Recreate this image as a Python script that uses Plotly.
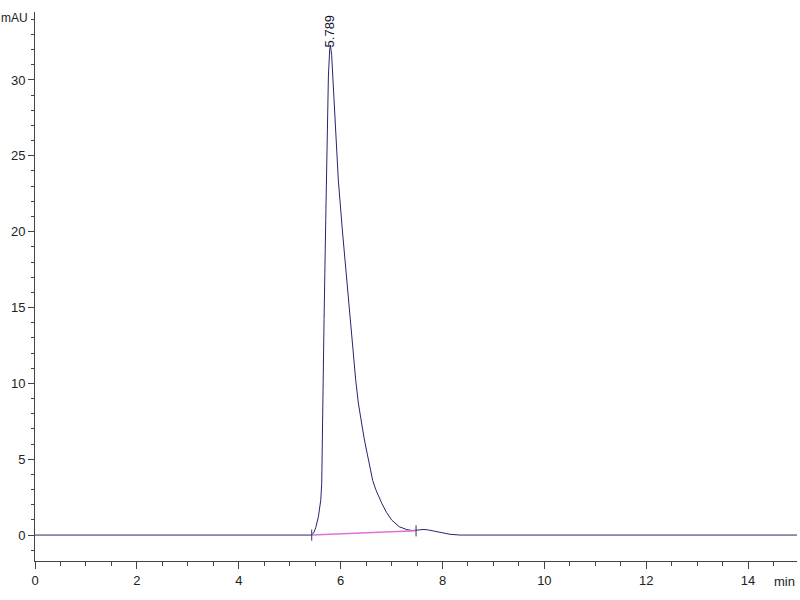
import plotly.graph_objects as go

# Chromatogram signal (time in min, absorbance in mAU)
time_min = [0.0, 2.0, 4.0, 5.0, 5.433, 5.48, 5.512, 5.563, 5.61, 5.629, 5.641, 5.649,
            5.675, 5.708, 5.733, 5.76, 5.785, 5.80, 5.825, 5.86, 5.90, 5.955, 6.034,
            6.12, 6.205, 6.297, 6.348, 6.40, 6.46, 6.52, 6.578, 6.63, 6.69, 6.75,
            6.807, 6.90, 7.0, 7.15, 7.30, 7.40, 7.481, 7.55, 7.618, 7.70, 7.85, 8.0,
            8.149, 8.345, 10.0, 12.0, 14.0, 15.0]
signal_mau = [0.0, 0.0, 0.0, 0.0, 0.0, 0.2, 0.5, 1.2, 2.3, 3.4, 5.6, 8.9,
              14.2, 20.8, 26.0, 30.2, 32.0, 32.3, 31.6, 29.5, 26.8, 23.4, 20.1,
              16.8, 13.5, 10.2, 8.7, 7.5, 6.4, 5.4, 4.4, 3.6, 3.0, 2.5,
              2.1, 1.5, 1.0, 0.55, 0.36, 0.3, 0.3, 0.34, 0.37, 0.35, 0.25, 0.14,
              0.05, 0.0, 0.0, 0.0, 0.0, 0.0]

# Integration baseline
baseline_time = [5.433, 7.481]
baseline_mau = [0.0, 0.28]

peak_time = 5.789
peak_height = 32.3
peak_label = "5.789"

font_family = "Liberation Sans Narrow, Liberation Sans, Arial"

fig = go.Figure()
fig.add_trace(go.Scatter(x=time_min, y=signal_mau, mode="lines",
                         line=dict(color="#25256f", width=1),
                         hoverinfo="skip"))
fig.add_trace(go.Scatter(x=baseline_time, y=baseline_mau, mode="lines+markers",
                         line=dict(color="#e070d8", width=1.5),
                         marker=dict(symbol="line-ns", size=8,
                                     line=dict(color="#333355", width=1)),
                         hoverinfo="skip"))

fig.add_annotation(x=peak_time, y=peak_height, text=peak_label, textangle=-90,
                   showarrow=False, yanchor="bottom", xanchor="center", yshift=-4,
                   font=dict(family=font_family, size=13, color="#111133"))
fig.add_annotation(xref="paper", yref="paper", x=0, y=1, text="mAU",
                   showarrow=False, xanchor="left", yanchor="middle",
                   xshift=-36, yshift=-6,
                   font=dict(family=font_family, size=12, color="#222222"))
fig.add_annotation(xref="paper", yref="paper", x=1, y=0, text="min",
                   showarrow=False, xanchor="right", yanchor="top",
                   xshift=0, yshift=-11,
                   font=dict(family=font_family, size=13, color="#222222"))

fig.update_layout(
    width=800, height=600,
    margin=dict(l=35, r=3, t=12, b=39),
    paper_bgcolor="white", plot_bgcolor="white",
    showlegend=False,
    font=dict(family=font_family, size=13, color="#222222"),
)
fig.update_xaxes(range=[0, 14.96], dtick=2, tick0=0, showgrid=False, zeroline=False,
                 automargin=False,
                 showline=True, linecolor="#444444", linewidth=1,
                 ticks="outside", ticklen=7, tickcolor="#444444",
                 minor=dict(dtick=0.5, ticks="outside", ticklen=4, tickcolor="#444444"))
fig.update_yaxes(range=[-1.71, 34.48], dtick=5, tick0=0, showgrid=False, zeroline=False,
                 automargin=False,
                 showline=True, linecolor="#444444", linewidth=1,
                 ticks="outside", ticklen=6, tickcolor="#444444",
                 minor=dict(dtick=1, ticks="outside", ticklen=3, tickcolor="#444444"))

fig.write_html("out.html", config={"displayModeBar": False},
               post_script="document.body.style.margin='0';document.body.style.overflow='hidden';")
